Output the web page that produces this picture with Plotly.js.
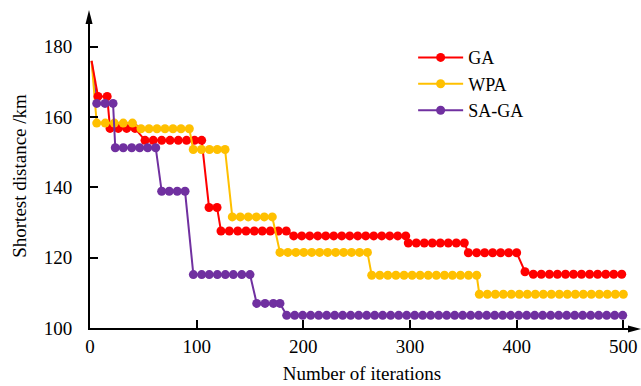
<!DOCTYPE html>
<html><head><meta charset="utf-8">
<script src="https://cdn.plot.ly/plotly-3.0.1.min.js"></script>
<style>html,body{margin:0;padding:0;background:#fff;}#chart{width:641px;height:386px;}</style>
</head><body><div id="chart"></div>
<script>
const seriesNames = ['GA', 'WPA', 'SA-GA'];
const seriesColors = ['#FF0000', '#FFC000', '#7030A0'];
const startIteration = 1.5;
const startDistance = 176;

const gaX = [7.5, 16.1,
  18.8, 26.5, 34.4, 42.2,
  51.6, 59.3, 67.2, 75.0, 82.8, 90.5, 98.0, 104.7,
  111.6, 119.1,
  122.8, 130.6, 138.5, 146.3, 154.0, 161.5, 169.0, 176.5, 184.0,
  191.0, 198.5, 206.0, 213.5, 221.0, 228.5, 236.0, 243.5, 251.0, 258.5, 266.0, 273.5, 281.0, 288.5, 296.0,
  298.4, 305.9, 313.4, 320.9, 328.4, 335.9, 343.4, 350.9,
  354.7, 362.5, 370.0, 377.5, 385.0, 392.5, 400.0,
  407.8,
  415.6, 423.1, 430.7, 438.2, 445.8, 453.3, 460.8, 468.4, 475.9, 483.5, 491.0, 498.5];
const gaY = [165.9, 165.9,
  156.8, 156.8, 156.8, 156.8,
  153.4, 153.4, 153.4, 153.4, 153.4, 153.4, 153.4, 153.4,
  134.3, 134.3,
  127.6, 127.6, 127.6, 127.6, 127.6, 127.6, 127.6, 127.6, 127.6,
  126.2, 126.2, 126.2, 126.2, 126.2, 126.2, 126.2, 126.2, 126.2, 126.2, 126.2, 126.2, 126.2, 126.2, 126.2,
  124.2, 124.2, 124.2, 124.2, 124.2, 124.2, 124.2, 124.2,
  121.4, 121.4, 121.4, 121.4, 121.4, 121.4, 121.4,
  116.0,
  115.3, 115.3, 115.3, 115.3, 115.3, 115.3, 115.3, 115.3, 115.3, 115.3, 115.3, 115.3];

const wpaX = [6.3, 14.3, 22.8, 31.2, 39.8,
  47.8, 55.3, 62.8, 70.3, 77.8, 85.3, 93.1,
  96.8, 104.5, 112.0, 119.3, 126.6,
  133.4, 140.9, 148.4, 155.9, 163.4, 170.9,
  178.1, 185.5, 193.0, 200.4, 207.9, 215.3, 222.8, 230.3, 237.8, 245.2, 252.7, 260.1,
  264.1, 271.7, 279.2, 286.8, 294.4, 302.0, 309.5, 317.1, 324.7, 332.3, 339.8, 347.3, 354.9, 362.5,
  365.0, 372.5, 380.0, 387.5, 395.0, 402.5, 410.0, 417.5, 425.0, 432.5, 440.0, 447.5, 455.0, 462.5, 470.0, 477.5, 485.0, 492.5, 500.0];
const wpaY = [158.3, 158.3, 158.3, 158.3, 158.3,
  156.7, 156.7, 156.7, 156.7, 156.7, 156.7, 156.7,
  150.8, 150.8, 150.8, 150.8, 150.8,
  131.6, 131.6, 131.6, 131.6, 131.6, 131.6,
  121.5, 121.5, 121.5, 121.5, 121.5, 121.5, 121.5, 121.5, 121.5, 121.5, 121.5, 121.5,
  115.0, 115.0, 115.0, 115.0, 115.0, 115.0, 115.0, 115.0, 115.0, 115.0, 115.0, 115.0, 115.0, 115.0,
  109.6, 109.6, 109.6, 109.6, 109.6, 109.6, 109.6, 109.6, 109.6, 109.6, 109.6, 109.6, 109.6, 109.6, 109.6, 109.6, 109.6, 109.6, 109.6];

const sagaX = [6.3, 14.1, 21.6,
  23.7, 31.2, 39.1, 46.6, 54.1, 61.6,
  67.2, 74.3, 81.8, 89.1,
  96.9, 104.7, 111.8, 119.4, 126.9, 134.4, 142.3, 150.0,
  156.3, 164.1, 171.9, 178.1,
  184.4, 191.9, 199.4, 206.9, 214.4, 221.9, 229.4, 236.9, 244.4, 251.9, 259.4, 266.9, 274.4, 281.9,
  289.4, 296.9, 304.4, 311.9, 319.4, 326.9, 334.4, 341.9, 349.4, 356.9, 364.4, 371.9, 379.4, 386.9,
  394.4, 401.9, 409.4, 416.9, 424.4, 431.9, 439.4, 446.9, 454.4, 461.9, 469.4, 476.9, 484.4, 491.9, 499.4];
const sagaY = [163.9, 163.9, 163.9,
  151.3, 151.3, 151.3, 151.3, 151.3, 151.3,
  138.9, 138.9, 138.9, 138.9,
  115.2, 115.2, 115.2, 115.2, 115.2, 115.2, 115.2, 115.2,
  107.0, 107.0, 107.0, 107.0,
  103.6, 103.6, 103.6, 103.6, 103.6, 103.6, 103.6, 103.6, 103.6, 103.6, 103.6, 103.6, 103.6, 103.6,
  103.6, 103.6, 103.6, 103.6, 103.6, 103.6, 103.6, 103.6, 103.6, 103.6, 103.6, 103.6, 103.6, 103.6,
  103.6, 103.6, 103.6, 103.6, 103.6, 103.6, 103.6, 103.6, 103.6, 103.6, 103.6, 103.6, 103.6, 103.6, 103.6];

const xTicks = [0, 100, 200, 300, 400, 500];
const yTicks = [100, 120, 140, 160, 180];

const allX = [gaX, wpaX, sagaX];
const allY = [gaY, wpaY, sagaY];

const traces = [];
// initial drop from the starting value (line only); purple first so red/yellow sit on top
for (let i = 2; i >= 0; i--) {
  traces.push({
    type: 'scatter', mode: 'lines', showlegend: false, hoverinfo: 'skip',
    x: [startIteration, allX[i][0]], y: [startDistance, allY[i][0]],
    line: {color: seriesColors[i], width: 2}
  });
}
for (let i = 0; i < 3; i++) {
  traces.push({
    type: 'scatter', mode: 'lines+markers', name: seriesNames[i],
    x: allX[i], y: allY[i],
    line: {color: seriesColors[i], width: 2},
    marker: {color: seriesColors[i], size: 9, line: {width: 0}}
  });
}

const fontFam = '"Liberation Serif", "Times New Roman", Times, serif';
const layout = {
  width: 641, height: 386,
  margin: {l: 90, r: 7, t: 24, b: 58, pad: 0},
  paper_bgcolor: '#ffffff', plot_bgcolor: '#ffffff',
  font: {family: fontFam, size: 19, color: '#000'},
  showlegend: true,
  legend: {
    x: 0.594, y: 0.95, xanchor: 'left', yanchor: 'top',
    bgcolor: 'rgba(0,0,0,0)', borderwidth: 0,
    font: {family: fontFam, size: 18, color: '#000'},
    itemwidth: 45, tracegroupgap: 0
  },
  xaxis: {
    range: [0, 510], tickmode: 'array', tickvals: xTicks, ticktext: xTicks.map(String),
    ticks: 'inside', ticklen: 8, tickwidth: 2, tickcolor: '#000',
    showline: true, linecolor: '#000', linewidth: 2,
    showgrid: false, zeroline: false,
    tickfont: {family: fontFam, size: 19, color: '#000'},
    title: {text: 'Number of iterations', font: {family: fontFam, size: 19, color: '#000'}, standoff: 11}
  },
  yaxis: {
    range: [100, 186.5], tickmode: 'array', tickvals: yTicks, ticktext: yTicks.map(String),
    ticks: 'inside', ticklen: 8, tickwidth: 2, tickcolor: '#000',
    showline: true, linecolor: '#000', linewidth: 2,
    showgrid: false, zeroline: false,
    ticklabelstandoff: 12,
    tickfont: {family: fontFam, size: 19, color: '#000'},
    title: {text: 'Shortest distance /km', font: {family: fontFam, size: 19, color: '#000'}, standoff: 12}
  },
  shapes: [
    {type: 'path', xref: 'paper', yref: 'paper', path: 'M-0.0083,1 L-0.0018,1.046 L0.0047,1 Z', fillcolor: '#000', line: {width: 0}},
    {type: 'path', xref: 'paper', yref: 'paper', path: 'M0.989,0.0082 L1.013,-0.0033 L0.989,-0.0148 Z', fillcolor: '#000', line: {width: 0}}
  ]
};

Plotly.newPlot('chart', traces, layout, {displayModeBar: false, staticPlot: true});
</script>
</body></html>
